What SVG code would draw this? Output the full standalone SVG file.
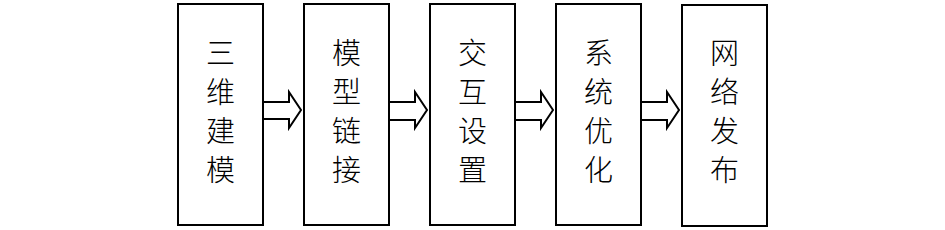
<svg xmlns="http://www.w3.org/2000/svg" width="945" height="230" viewBox="0 0 945 230">
<style>
.box{fill:#fff;stroke:#000;stroke-width:2}
.arr{fill:#fff;stroke:#000;stroke-width:2;stroke-linejoin:miter}
.t{font-family:"Noto Sans CJK SC","Noto Sans CJK JP",sans-serif;font-size:29px;font-weight:300;fill:#000;text-anchor:middle}
</style>
<rect width="945" height="230" fill="#fff"/>
<g id="connectors">
<polygon class="arr" points="263,102 289,102 289,92 301,110 289,128 289,119 263,119"/>
<polygon class="arr" points="389,102 415,102 415,92 427,110 415,128 415,120 389,120"/>
<polygon class="arr" points="515,102 541,102 541,92 553,110 541,128 541,120 515,120"/>
<polygon class="arr" points="641,102 667,102 667,92 679,110 667,128 667,120 641,120"/>
</g>
<g id="n1"><rect class="box" x="178" y="4" width="85" height="221"/>
<text class="t" x="220.5"><tspan x="220.5" y="64">三</tspan><tspan x="220.5" y="103">维</tspan><tspan x="220.5" y="142">建</tspan><tspan x="220.5" y="181">模</tspan></text></g>
<g id="n2"><rect class="box" x="304" y="4" width="85" height="221"/>
<text class="t"><tspan x="346.5" y="64">模</tspan><tspan x="346.5" y="103">型</tspan><tspan x="346.5" y="142">链</tspan><tspan x="346.5" y="181">接</tspan></text></g>
<g id="n3"><rect class="box" x="430" y="4" width="85" height="221"/>
<text class="t"><tspan x="472.5" y="64">交</tspan><tspan x="472.5" y="103">互</tspan><tspan x="472.5" y="142">设</tspan><tspan x="472.5" y="181">置</tspan></text></g>
<g id="n4"><rect class="box" x="556" y="4" width="85" height="221"/>
<text class="t"><tspan x="598.5" y="64">系</tspan><tspan x="598.5" y="103">统</tspan><tspan x="598.5" y="142">优</tspan><tspan x="598.5" y="181">化</tspan></text></g>
<g id="n5"><rect class="box" x="682" y="5" width="85" height="221"/>
<text class="t"><tspan x="724.5" y="64">网</tspan><tspan x="724.5" y="103">络</tspan><tspan x="724.5" y="142">发</tspan><tspan x="724.5" y="181">布</tspan></text></g>
</svg>
